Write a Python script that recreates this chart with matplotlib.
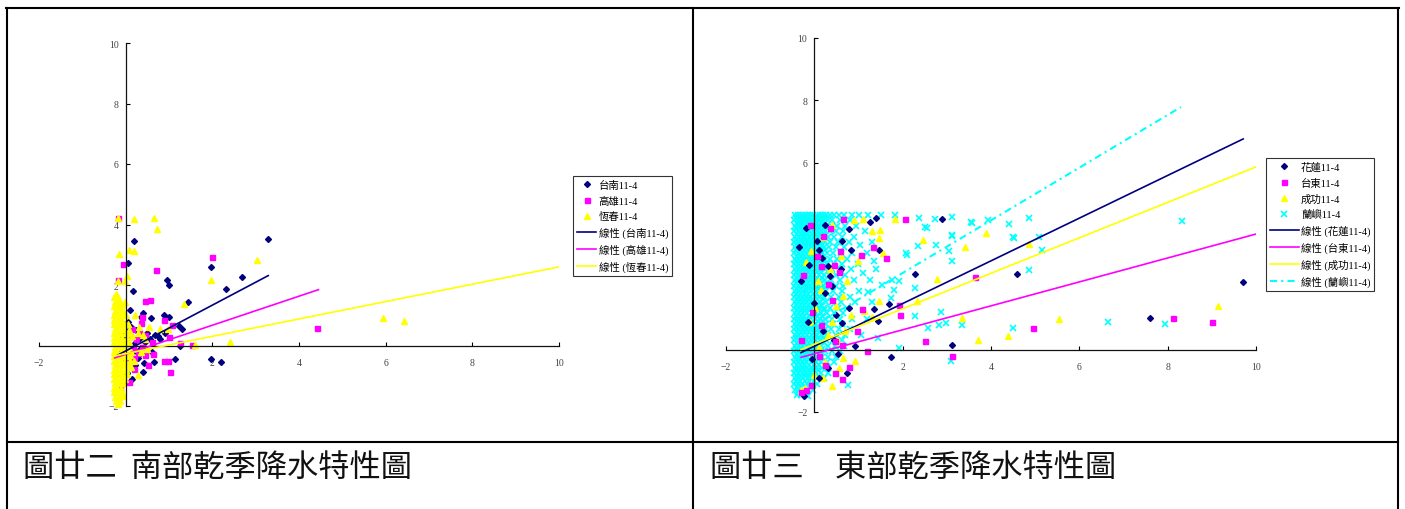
import numpy as np
import matplotlib.pyplot as plt
from matplotlib.lines import Line2D

plt.rcParams['font.family'] = ['Liberation Serif', 'Noto Sans CJK TC']

# --- Left chart: south (台南 / 高雄 / 恆春), dry season 11-4 ---
tainan_pts = [
    (3.28, 3.53), (0.2, 3.44), (0.06, 2.73), (1.97, 2.6), (2.69, 2.27), (0.95, 2.16),
    (1.0, 2.0), (2.31, 1.87), (0.16, 1.79), (1.43, 1.43), (0.1, 1.17), (0.06, 0.77),
    (0.41, 1.06), (0.58, 0.91), (0.88, 1.02), (1.0, 0.95), (1.23, 0.66), (1.29, 0.53),
    (0.35, 0.95), (0.06, 0.47), (0.75, 0.31), (0.68, 0.36), (0.45, 0.11), (0.56, 0.2),
    (1.25, -0.02), (1.98, -0.46), (2.2, -0.55), (1.15, -0.46), (0.66, -0.55), (0.43, -0.57),
    (0.39, -0.88), (0.14, -1.12), (0.22, -0.63), (0.29, -0.41), (0.14, -0.24), (0.79, 0.22),
    (-0.05, 0.3), (0.0, -0.5), (0.03, -0.9), (-0.1, -1.3), (0.02, 0.1), (0.25, 0.5),
    (0.3, 0.2), (0.5, 0.4), (0.12, 0.62), (0.33, -0.1), (0.08, -0.35), (0.2, 0.05),
    (0.6, -0.2), (0.9, 0.4), (0.4, 0.3),
]
kaohsiung_pts = [
    (-0.18, 4.22), (2.0, 2.93), (-0.07, 2.71), (0.69, 2.49), (-0.18, 2.16), (0.56, 1.52),
    (0.45, 1.47), (0.37, 0.95), (0.89, 0.84), (1.08, 0.69), (0.35, 0.75), (0.45, 0.36),
    (1.0, 0.29), (1.25, 0.07), (1.54, 0.02), (0.16, -0.08), (0.28, -0.24), (0.45, -0.3),
    (0.62, -0.28), (0.89, -0.51), (0.97, -0.51), (1.03, -0.86), (0.52, -0.66), (0.19, -0.79),
    (0.08, -1.21), (-0.05, -1.16), (0.05, -0.46), (4.42, 0.57), (0.25, 0.2),
    (-0.2, 0.4), (-0.1, -0.2), (-0.15, -0.6), (0.1, 0.3), (0.3, 0.45), (0.6, 0.1),
    (0.2, -0.4), (-0.12, -1.4), (0.0, 0.1), (0.15, 0.55), (0.38, -0.05),
]
hengchun_pts = [
    (-0.18, 4.22), (0.19, 4.19), (0.66, 4.22), (0.72, 3.86), (-0.15, 3.03), (0.08, 3.17),
    (0.19, 3.14), (3.04, 2.84), (0.02, 2.31), (-0.02, 2.13), (-0.17, 2.13), (1.97, 2.18),
    (-0.23, 1.69), (-0.18, 1.52), (-0.08, 1.36), (1.35, 1.36), (-0.15, 1.19), (0.22, 1.02),
    (0.54, 0.62), (-0.21, 0.75), (-0.17, 0.58), (0.28, 0.42), (0.41, 0.36), (0.79, 0.53),
    (0.97, 0.53), (1.6, 0.03), (2.41, 0.11), (0.29, -0.98), (-0.11, -1.51), (-0.18, -1.95),
    (-0.05, -1.67), (5.94, 0.92), (6.42, 0.82), (0.1, -0.3), (0.15, 0.3), (0.3, 0.6),
    (0.45, 0.2), (0.2, -0.5), (0.08, 0.5), (0.35, -0.2), (0.12, -0.7), (0.5, -0.1),
]
# dense band of 恆春 values just right of zero (y level -> x values)
hengchun_band = {
    1.6: [-0.26, -0.18], 1.45: [-0.24, -0.12, -0.02], 1.3: [-0.27, -0.19, -0.1],
    1.15: [-0.25, -0.16, -0.05], 1.0: [-0.27, -0.2, -0.11, 0.0], 0.85: [-0.26, -0.17, -0.08],
    0.7: [-0.28, -0.2, -0.12, -0.03, 0.06], 0.55: [-0.25, -0.16, -0.07],
    0.4: [-0.27, -0.19, -0.1, 0.0, 0.1], 0.25: [-0.26, -0.17, -0.08, 0.03],
    0.1: [-0.28, -0.2, -0.11, -0.02, 0.08], -0.05: [-0.25, -0.16, -0.07, 0.04],
    -0.2: [-0.27, -0.19, -0.1, 0.0, 0.12], -0.35: [-0.26, -0.17, -0.08, 0.03],
    -0.5: [-0.28, -0.2, -0.11, -0.02, 0.1], -0.65: [-0.25, -0.16, -0.07, 0.05],
    -0.8: [-0.27, -0.19, -0.1, 0.0], -0.95: [-0.26, -0.17, -0.08, 0.04],
    -1.1: [-0.28, -0.2, -0.11, -0.02], -1.25: [-0.25, -0.16, -0.07],
    -1.4: [-0.27, -0.19, -0.1], -1.55: [-0.26, -0.17, -0.08], -1.7: [-0.24, -0.15],
    -1.85: [-0.22, -0.13],
}
# trend lines: (slope, intercept), x span
tainan_fit, tainan_span = (0.757, -0.18), (-0.2, 3.29)
kaohsiung_fit, kaohsiung_span = (0.48, -0.29), (-0.25, 4.45)
hengchun_fit, hengchun_span = (0.287, -0.27), (-0.25, 10.0)

# --- Right chart: east (花蓮 / 台東 / 成功 / 蘭嶼) ---
hualien_pts = [
    (4.58, 2.42), (9.71, 2.18), (7.6, 1.03), (3.12, 0.14), (1.4, 4.22), (2.88, 4.2),
    (0.78, 3.87), (2.29, 2.43), (1.47, 3.21), (0.83, 3.21), (1.68, 1.47), (1.25, 4.1),
    (0.63, 3.5), (0.35, 2.35), (0.78, 1.34), (1.74, -0.25), (0.92, 0.11), (0.74, -0.75),
    (-0.24, -1.5), (0.63, 0.86), (0.3, 2.67), (0.18, 2.94), (0.39, 2.03), (1.36, 1.32),
    (1.44, 0.91), (0.54, -0.13), (0.05, 3.5), (-0.11, 2.73), (0.24, 1.82),
    (-0.2, 3.9), (0.1, 3.2), (-0.3, 2.2), (0.0, 1.5), (-0.15, 0.9), (0.2, 0.6),
    (0.45, 0.3), (-0.05, -0.3), (0.3, -0.6), (0.1, -0.9), (0.5, 1.1), (0.6, 2.6),
    (0.25, 4.0), (-0.35, 3.3),
]
taitung_pts = [
    (3.63, 2.32), (4.94, 0.68), (8.11, 1.03), (9.0, 0.9), (3.12, -0.21), (0.65, 4.2),
    (2.05, 4.2), (1.62, 2.94), (1.06, 3.03), (0.58, 3.18), (1.32, 3.28), (0.2, 3.64),
    (0.45, 2.73), (1.91, 1.42), (1.95, 1.12), (2.5, 0.29), (1.19, -0.05), (0.96, 0.61),
    (0.62, 0.16), (0.46, 0.27), (0.78, -0.57), (0.62, -0.93), (0.46, -0.75), (-0.07, -1.12),
    (-0.18, -1.28), (0.16, 2.7), (0.41, 1.6), (1.07, 1.32),
    (-0.1, 4.0), (0.05, 3.0), (-0.25, 2.4), (0.3, 2.1), (-0.05, 1.2), (0.15, 0.8),
    (-0.3, 0.3), (0.1, -0.2), (0.25, -0.5), (-0.3, -1.35), (0.35, 3.9), (0.55, 2.5),
]
chenggong_pts = [
    (3.88, 3.74), (3.41, 3.29), (4.85, 3.38), (3.35, 1.02), (3.71, 0.3), (4.38, 0.43),
    (5.54, 0.99), (9.14, 1.41), (1.11, 4.2), (1.49, 3.85), (1.3, 3.8), (1.47, 3.58),
    (2.46, 3.53), (1.55, 3.1), (2.77, 2.28), (2.33, 1.55), (1.47, 1.55), (0.98, 2.86),
    (0.9, 4.17), (1.83, 4.2), (1.13, 1.23), (1.3, 1.04), (0.84, 1.12), (0.65, 1.71),
    (0.92, -0.37), (0.65, -0.27), (0.39, -1.18), (0.2, -0.91), (-0.22, -1.23), (0.52, 0.32),
    (0.3, 0.48), (0.08, 2.19), (0.01, 1.34), (-0.07, 3.16),
    (0.4, 4.0), (0.2, 3.6), (-0.2, 2.8), (0.35, 2.6), (0.6, 3.0), (0.15, 1.9),
    (-0.1, 0.9), (0.4, 0.9), (0.7, 0.6), (0.1, 0.1), (0.55, -0.6), (0.25, -0.4),
    (-0.3, -1.3), (0.0, -0.8), (0.75, 2.2), (0.5, 1.4),
]
lanyu_pts = [
    (3.12, 4.26), (3.54, 4.09), (3.94, 4.17), (4.41, 4.03), (4.86, 4.22), (4.49, 3.61),
    (5.08, 3.61), (5.16, 3.19), (4.87, 2.57), (8.32, 4.14), (3.12, 3.69), (3.12, 2.83),
    (3.35, 0.78), (4.49, 0.68), (6.66, 0.88), (7.94, 0.82), (2.37, 4.22), (2.73, 4.2),
    (2.5, 3.93), (2.76, 3.35), (2.08, 3.1), (3.05, 3.16), (1.76, 2.25), (1.92, 2.19),
    (1.53, 2.09), (1.21, 1.85), (2.58, 0.7), (3.09, -0.35), (2.82, 0.8), (1.45, 0.37),
    (1.91, 0.05), (0.77, -1.12), (-0.14, -1.5), (1.11, 2.46), (1.34, 2.83), (1.03, 3.37),
    (2.55, 3.9), (3.58, 4.08), (2.27, 1.07), (2.99, 0.86), (2.86, 1.2), (2.27, 1.98),
    (2.35, 3.34), (2.09, 3.05), (3.11, 3.64), (4.53, 3.59), (1.8, 1.92), (1.73, 1.66),
]
# dense mass of 蘭嶼 values near the y axis (y level -> x values)
lanyu_band = {
    4.33: [-0.44, -0.37, -0.3, -0.23, -0.16, -0.09, -0.02, 0.05, 0.12, 0.19, 0.27, 0.35,
           0.44, 0.55, 0.68, 0.85, 1.02, 1.22, 1.5, 1.82],
    4.15: [-0.45, -0.38, -0.31, -0.22, -0.14, -0.06, 0.03, 0.11, 0.2, 0.3, 0.41, 0.57, 0.8],
    3.98: [-0.43, -0.35, -0.27, -0.19, -0.1, -0.01, 0.08, 0.17, 0.26, 0.38, 0.52, 0.7, 0.95],
    3.8: [-0.45, -0.36, -0.28, -0.2, -0.12, -0.03, 0.06, 0.15, 0.25, 0.36, 0.5, 0.66, 1.15],
    3.62: [-0.44, -0.35, -0.26, -0.18, -0.09, 0.0, 0.09, 0.19, 0.31, 0.45, 0.62, 0.9],
    3.45: [-0.45, -0.37, -0.29, -0.21, -0.12, -0.04, 0.05, 0.14, 0.24, 0.36, 0.53, 0.78, 1.3],
    3.28: [-0.43, -0.34, -0.25, -0.16, -0.07, 0.02, 0.12, 0.22, 0.34, 0.48, 0.68],
    3.1: [-0.45, -0.36, -0.27, -0.19, -0.1, -0.01, 0.08, 0.18, 0.29, 0.43, 0.6, 0.86, 1.2],
    2.92: [-0.44, -0.35, -0.26, -0.17, -0.08, 0.01, 0.11, 0.22, 0.35, 0.52, 0.74],
    2.75: [-0.45, -0.37, -0.28, -0.19, -0.1, -0.02, 0.07, 0.17, 0.29, 0.44, 0.63, 0.98],
    2.58: [-0.43, -0.34, -0.25, -0.16, -0.07, 0.03, 0.13, 0.25, 0.39, 0.57, 0.82, 1.4],
    2.4: [-0.45, -0.36, -0.27, -0.18, -0.09, 0.0, 0.1, 0.21, 0.34, 0.5, 0.7],
    2.22: [-0.44, -0.35, -0.26, -0.17, -0.08, 0.02, 0.12, 0.24, 0.38, 0.58, 0.9, 1.25],
    2.05: [-0.45, -0.37, -0.28, -0.19, -0.1, -0.01, 0.09, 0.2, 0.33, 0.48, 0.66],
    1.88: [-0.43, -0.34, -0.25, -0.16, -0.07, 0.03, 0.14, 0.27, 0.42, 0.62, 1.0],
    1.7: [-0.45, -0.36, -0.27, -0.18, -0.09, 0.01, 0.11, 0.23, 0.37, 0.55, 0.8],
    1.52: [-0.44, -0.35, -0.26, -0.17, -0.08, 0.02, 0.13, 0.26, 0.41, 0.6, 0.92, 1.3],
    1.35: [-0.45, -0.37, -0.28, -0.19, -0.1, 0.0, 0.1, 0.22, 0.36, 0.53, 0.74],
    1.18: [-0.43, -0.34, -0.25, -0.16, -0.06, 0.04, 0.15, 0.28, 0.44, 0.65],
    1.0: [-0.45, -0.36, -0.27, -0.18, -0.09, 0.01, 0.12, 0.25, 0.4, 0.58, 0.85, 1.2],
    0.82: [-0.44, -0.35, -0.26, -0.17, -0.07, 0.03, 0.14, 0.27, 0.43, 0.62],
    0.65: [-0.45, -0.37, -0.28, -0.19, -0.1, 0.0, 0.11, 0.24, 0.38, 0.55, 0.8],
    0.48: [-0.43, -0.34, -0.25, -0.16, -0.06, 0.05, 0.17, 0.31, 0.48, 0.7, 1.05],
    0.3: [-0.45, -0.36, -0.27, -0.18, -0.08, 0.02, 0.13, 0.26, 0.42, 0.62],
    0.12: [-0.44, -0.35, -0.26, -0.17, -0.07, 0.04, 0.16, 0.3, 0.47, 0.68],
    -0.05: [-0.45, -0.37, -0.28, -0.19, -0.09, 0.01, 0.12, 0.25, 0.4, 0.58],
    -0.22: [-0.43, -0.34, -0.25, -0.16, -0.06, 0.05, 0.17, 0.31, 0.5],
    -0.4: [-0.45, -0.36, -0.27, -0.18, -0.08, 0.03, 0.14, 0.28, 0.45],
    -0.58: [-0.44, -0.35, -0.26, -0.16, -0.06, 0.05, 0.17, 0.32],
    -0.75: [-0.45, -0.37, -0.28, -0.19, -0.09, 0.02, 0.14, 0.3],
    -0.92: [-0.43, -0.34, -0.25, -0.15, -0.05, 0.07, 0.22],
    -1.1: [-0.45, -0.36, -0.27, -0.17, -0.07, 0.05],
    -1.28: [-0.44, -0.35, -0.25, -0.15, -0.04],
    -1.45: [-0.4, -0.3, -0.2],
}
# the solid core of that mass, between the rows above
lanyu_core = {
    4.24: [-0.41, -0.33, -0.26, -0.19, -0.12, -0.05, 0.02, 0.09, 0.16, 0.24],
    4.06: [-0.4, -0.33, -0.25, -0.17, -0.1, -0.02, 0.06, 0.14, 0.23],
    3.89: [-0.41, -0.32, -0.24, -0.16, -0.07, 0.02, 0.1, 0.2],
    3.71: [-0.4, -0.31, -0.23, -0.15, -0.06, 0.04, 0.13, 0.22],
    3.53: [-0.41, -0.33, -0.24, -0.16, -0.07, 0.02, 0.11, 0.2],
    3.36: [-0.4, -0.3, -0.21, -0.12, -0.03, 0.07, 0.17],
    3.19: [-0.41, -0.32, -0.23, -0.15, -0.06, 0.03, 0.13, 0.24],
    3.01: [-0.4, -0.31, -0.22, -0.13, -0.04, 0.06, 0.16],
    2.83: [-0.41, -0.33, -0.24, -0.15, -0.06, 0.03, 0.12, 0.23],
    2.66: [-0.4, -0.3, -0.21, -0.12, -0.02, 0.08, 0.19],
    2.49: [-0.41, -0.32, -0.23, -0.14, -0.05, 0.05, 0.15],
    2.31: [-0.4, -0.31, -0.22, -0.13, -0.03, 0.07, 0.18],
    2.13: [-0.41, -0.33, -0.24, -0.15, -0.05, 0.04, 0.14, 0.26],
    1.96: [-0.4, -0.3, -0.21, -0.12, -0.02, 0.08, 0.2],
    1.79: [-0.41, -0.32, -0.23, -0.14, -0.04, 0.06, 0.17],
    1.61: [-0.4, -0.31, -0.22, -0.13, -0.03, 0.07, 0.19],
    1.44: [-0.41, -0.33, -0.24, -0.15, -0.05, 0.05, 0.16],
    1.26: [-0.4, -0.3, -0.21, -0.11, -0.01, 0.09, 0.21],
    1.09: [-0.41, -0.32, -0.23, -0.13, -0.04, 0.07, 0.18],
    0.91: [-0.4, -0.31, -0.22, -0.12, -0.02, 0.08, 0.2],
    0.74: [-0.41, -0.33, -0.24, -0.14, -0.05, 0.05, 0.17],
    0.56: [-0.4, -0.3, -0.21, -0.11, -0.01, 0.1, 0.22],
    0.39: [-0.41, -0.32, -0.22, -0.13, -0.03, 0.08, 0.19],
    0.21: [-0.4, -0.31, -0.22, -0.12, -0.02, 0.09, 0.21],
    0.03: [-0.41, -0.33, -0.23, -0.14, -0.04, 0.06, 0.18],
    -0.14: [-0.4, -0.3, -0.21, -0.11, -0.01, 0.1],
    -0.31: [-0.41, -0.32, -0.22, -0.13, -0.03, 0.08],
    -0.49: [-0.4, -0.31, -0.21, -0.11, 0.0, 0.1],
    -0.66: [-0.41, -0.33, -0.23, -0.14, -0.03, 0.08],
    -0.84: [-0.4, -0.3, -0.2, -0.1, 0.01],
    -1.01: [-0.41, -0.32, -0.22, -0.12, -0.01],
    -1.19: [-0.4, -0.31, -0.2, -0.1],
    -1.37: [-0.38, -0.28, -0.18],
}
hualien_fit, hualien_span = (0.685, 0.11), (-0.3, 9.71)
taitung_fit, taitung_span = (0.384, -0.13), (-0.3, 10.0)
chenggong_fit, chenggong_span = (0.569, 0.175), (-0.3, 10.0)
lanyu_fit, lanyu_span = (0.845, 0.77), (-0.45, 8.3)

ticks = [-2, 0, 2, 4, 6, 8, 10]
caption_left = '圖廿二  南部乾季降水特性圖'
caption_right = '圖廿三\u3000東部乾季降水特性圖'

NAVY, MAGENTA, YELLOW, CYAN = '#000080', '#FF00FF', '#FFFF00', '#00FFFF'

W, H = 1405, 510
fig = plt.figure(figsize=(W / 100, H / 100), dpi=100)


def band_to_pts(band):
    return [(x, y) for y, xs in band.items() for x in xs]


def setup_axes(ax):
    ax.set_xlim(-2, 10)
    ax.set_ylim(-2, 10)
    ax.patch.set_alpha(0)
    for s in ['top', 'right']:
        ax.spines[s].set_visible(False)
    ax.spines['left'].set_position(('data', 0))
    ax.spines['bottom'].set_position(('data', 0))
    for s in ['left', 'bottom']:
        ax.spines[s].set_linewidth(0.9)
        ax.spines[s].set_color('#111111')
    ax.set_xticks(ticks)
    ax.set_yticks(ticks)
    ax.tick_params(direction='in', length=3, width=0.8, labelsize=7, labelcolor='#444444')
    ax.tick_params(axis='x', pad=9)
    ax.tick_params(axis='y', pad=5)


def scatter(ax, pts, marker, color, ms, **kw):
    p = np.array(pts)
    h, = ax.plot(p[:, 0], p[:, 1], ls='none', marker=marker, ms=ms, color=color,
                 mec=color, clip_on=False, **kw)
    return h


def trend(ax, fit, span, color, ls='-'):
    xs = np.array(span)
    h, = ax.plot(xs, fit[0] * xs + fit[1], color=color, lw=1.2, ls=ls, zorder=3)
    return h


def add_legend(ax, handles, labels, x0, y0, hl):
    leg = ax.legend(handles, labels, loc='upper left', bbox_to_anchor=(x0 / W, 1 - y0 / H),
                    bbox_transform=fig.transFigure, fontsize=7.5, frameon=True, fancybox=False,
                    edgecolor='black', borderpad=0.35, handlelength=hl, handletextpad=0.2,
                    labelspacing=0.55, borderaxespad=0, numpoints=1)
    leg.get_frame().set_linewidth(0.8)
    return leg


# --- left chart ---
ax1 = fig.add_axes([39 / W, 1 - 407 / H, 520 / W, 363 / H])
setup_axes(ax1)
h1 = scatter(ax1, tainan_pts, 'D', NAVY, 3.0)
h2 = scatter(ax1, kaohsiung_pts, 's', MAGENTA, 3.6)
h3 = scatter(ax1, hengchun_pts + band_to_pts(hengchun_band), '^', YELLOW, 4.2)
t1 = trend(ax1, tainan_fit, tainan_span, NAVY)
t2 = trend(ax1, kaohsiung_fit, kaohsiung_span, MAGENTA)
t3 = trend(ax1, hengchun_fit, hengchun_span, YELLOW)
add_legend(ax1, [h1, h2, h3, t1, t2, t3],
           ['台南11-4', '高雄11-4', '恆春11-4',
            '線性 (台南11-4)', '線性 (高雄11-4)', '線性 (恆春11-4)'], 573, 177, 1.9)

# --- right chart ---
ax2 = fig.add_axes([726 / W, 1 - 413 / H, 530 / W, 374 / H])
setup_axes(ax2)
g1 = scatter(ax2, hualien_pts, 'D', NAVY, 3.0, zorder=2.2)
g2 = scatter(ax2, taitung_pts, 's', MAGENTA, 3.6, zorder=2.2)
g3 = scatter(ax2, chenggong_pts, '^', YELLOW, 4.2, zorder=2.1)
g4 = scatter(ax2, lanyu_pts + band_to_pts(lanyu_band) + band_to_pts(lanyu_core), 'x', CYAN,
             4.4, mew=1.2, zorder=2.0)
u1 = trend(ax2, hualien_fit, hualien_span, NAVY)
u2 = trend(ax2, taitung_fit, taitung_span, MAGENTA)
u3 = trend(ax2, chenggong_fit, chenggong_span, YELLOW)
u4 = trend(ax2, lanyu_fit, lanyu_span, CYAN, ls=(0, (3.4, 2, 1, 2)))
u4.set_linewidth(1.5)
add_legend(ax2, [g1, g2, g3, g4, u1, u2, u3, u4],
           ['花蓮11-4', '台東11-4', '成功11-4', '蘭嶼11-4',
            '線性 (花蓮11-4)', '線性 (台東11-4)', '線性 (成功11-4)', '線性 (蘭嶼11-4)'],
           1266, 159, 2.8)

# --- table borders around the two figures ---
border = [
    ((6, 9), (1399, 9)), ((7, 9), (7, 510)), ((693, 9), (693, 510)),
    ((1398, 9), (1398, 510)), ((7, 443), (1398, 443)),
]
for (xa, ya), (xb, yb) in border:
    fig.add_artist(Line2D([xa / W, xb / W], [1 - ya / H, 1 - yb / H],
                          transform=fig.transFigure, color='black', lw=1.5))

fig.text(23 / W, 1 - 468 / H, caption_left, ha='left', va='center', fontsize=22.5,
         family=['Noto Sans CJK TC', 'DejaVu Sans'], color='#111111')
fig.text(710 / W, 1 - 468 / H, caption_right, ha='left', va='center', fontsize=22.5,
         family=['Noto Sans CJK TC', 'DejaVu Sans'], color='#111111')

fig.savefig('out.png', dpi=100)
